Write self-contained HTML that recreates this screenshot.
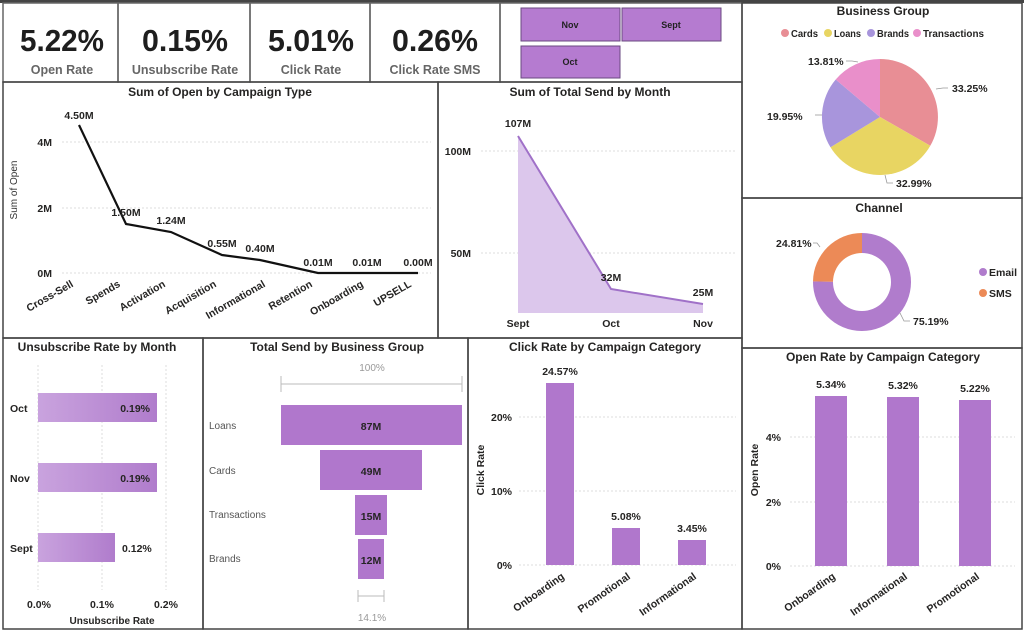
<!DOCTYPE html>
<html><head><meta charset="utf-8"><style>
html,body{margin:0;padding:0;background:#fff;}
svg{display:block;font-family:"Liberation Sans",sans-serif;}
.t{font-size:12px;font-weight:bold;fill:#252423;text-anchor:middle;}
.l{font-size:10.5px;font-weight:bold;fill:#252423;}
.g{stroke:#ddd;stroke-width:1;stroke-dasharray:2,2;}
</style></head><body>
<svg width="1024" height="630" viewBox="0 0 1024 630">
<rect width="1024" height="630" fill="#fff"/>
<g fill="none" stroke="#666" stroke-width="1.5">
<line x1="0" y1="1.5" x2="1024" y2="1.5" stroke="#444" stroke-width="3"/>
<rect x="3" y="3" width="115" height="79"/>
<rect x="118" y="3" width="132" height="79"/>
<rect x="250" y="3" width="120" height="79"/>
<rect x="370" y="3" width="130" height="79"/>
<rect x="500" y="3" width="242" height="79"/>
<rect x="3" y="82" width="435" height="256" stroke="#444"/>
<rect x="438" y="82" width="304" height="256" stroke="#444"/>
<rect x="742" y="3" width="280" height="195" stroke="#444"/>
<rect x="742" y="198" width="280" height="150" stroke="#444"/>
<rect x="742" y="348" width="280" height="281" stroke="#444"/>
<rect x="3" y="338" width="200" height="291" stroke="#444"/>
<rect x="203" y="338" width="265" height="291" stroke="#444"/>
<rect x="468" y="338" width="274" height="291" stroke="#444"/>
</g>
<g font-weight="bold" fill="#1e1e1e" text-anchor="middle">
<text x="62" y="51" font-size="31" textLength="84" lengthAdjust="spacingAndGlyphs">5.22%</text>
<text x="185" y="51" font-size="31" textLength="86" lengthAdjust="spacingAndGlyphs">0.15%</text>
<text x="311" y="51" font-size="31" textLength="86" lengthAdjust="spacingAndGlyphs">5.01%</text>
<text x="435" y="51" font-size="31" textLength="86" lengthAdjust="spacingAndGlyphs">0.26%</text>
</g>
<g font-size="12.5" font-weight="bold" fill="#666" text-anchor="middle">
<text x="62" y="74">Open Rate</text>
<text x="185" y="74">Unsubscribe Rate</text>
<text x="311" y="74">Click Rate</text>
<text x="435" y="74">Click Rate SMS</text>
</g>
<g fill="#b57bd0" stroke="#6a4a80" stroke-width="1">
<rect x="521" y="8" width="99" height="33"/>
<rect x="622" y="8" width="99" height="33"/>
<rect x="521" y="46" width="99" height="32"/>
</g>
<g font-size="9" font-weight="bold" fill="#222" text-anchor="middle">
<text x="570" y="28">Nov</text><text x="671" y="28">Sept</text><text x="570" y="65">Oct</text>
</g>
<text class="t" x="220" y="96">Sum of Open by Campaign Type</text>
<g class="g"><line x1="62" y1="142" x2="431" y2="142"/><line x1="62" y1="208" x2="431" y2="208"/><line x1="62" y1="273" x2="431" y2="273"/></g>
<g class="l" text-anchor="end"><text x="52" y="146">4M</text><text x="52" y="212">2M</text><text x="52" y="277">0M</text></g>
<text transform="translate(17,190) rotate(-90)" font-size="10" fill="#333" text-anchor="middle">Sum of Open</text>
<polyline points="79,125 126,224 171,232 222,255 260,260 318,273 367,273 418,273" fill="none" stroke="#111" stroke-width="2.2"/>
<g class="l" text-anchor="middle">
<text x="79" y="119">4.50M</text><text x="126" y="216">1.50M</text><text x="171" y="224">1.24M</text><text x="222" y="247">0.55M</text><text x="260" y="252">0.40M</text><text x="318" y="266">0.01M</text><text x="367" y="266">0.01M</text><text x="418" y="266">0.00M</text>
</g>
<g class="l" font-size="10" text-anchor="end">
<text transform="translate(74,286) rotate(-30)">Cross-Sell</text>
<text transform="translate(121,286) rotate(-30)">Spends</text>
<text transform="translate(166,286) rotate(-30)">Activation</text>
<text transform="translate(217,286) rotate(-30)">Acquisition</text>
<text transform="translate(266,286) rotate(-30)">Informational</text>
<text transform="translate(313,286) rotate(-30)">Retention</text>
<text transform="translate(364,286) rotate(-30)">Onboarding</text>
<text transform="translate(412,286) rotate(-30)">UPSELL</text>
</g>
<text class="t" x="590" y="96">Sum of Total Send by Month</text>
<g class="g"><line x1="481" y1="151" x2="735" y2="151"/><line x1="481" y1="253" x2="735" y2="253"/></g>
<g class="l" text-anchor="end"><text x="471" y="155">100M</text><text x="471" y="257">50M</text></g>
<polygon points="518,136 611,289 703,304 703,313 518,313" fill="#dcc7ec"/>
<polyline points="518,136 611,289 703,304" fill="none" stroke="#a071c8" stroke-width="2"/>
<g class="l" text-anchor="middle"><text x="518" y="127">107M</text><text x="611" y="281">32M</text><text x="703" y="296">25M</text>
<text x="518" y="327">Sept</text><text x="611" y="327">Oct</text><text x="703" y="327">Nov</text></g>
<text class="t" x="883" y="15">Business Group</text>
<g font-size="10" font-weight="bold" fill="#252423">
<circle cx="785" cy="33" r="4" fill="#e88e95"/><text x="791" y="37" textLength="27" lengthAdjust="spacingAndGlyphs">Cards</text>
<circle cx="828" cy="33" r="4" fill="#e8d562"/><text x="834" y="37" textLength="27" lengthAdjust="spacingAndGlyphs">Loans</text>
<circle cx="871" cy="33" r="4" fill="#a895dc"/><text x="877" y="37" textLength="32" lengthAdjust="spacingAndGlyphs">Brands</text>
<circle cx="917" cy="33" r="4" fill="#e98fca"/><text x="923" y="37" textLength="61" lengthAdjust="spacingAndGlyphs">Transactions</text>
</g>
<path d="M880,117 L880,59 A58,58 0 0 1 930.3,145.8 Z" fill="#e88e95"/>
<path d="M880,117 L930.3,145.8 A58,58 0 0 1 830.5,147.3 Z" fill="#e8d562"/>
<path d="M880,117 L830.5,147.3 A58,58 0 0 1 835.7,79.5 Z" fill="#a895dc"/>
<path d="M880,117 L835.7,79.5 A58,58 0 0 1 880,59 Z" fill="#e98fca"/>
<g stroke="#999" fill="none" stroke-width="0.8"><polyline points="936,89 943,88 948,88"/><polyline points="858,62 852,61 846,61"/><polyline points="822,115 815,115"/><polyline points="885,175 887,183 893,183"/></g>
<g class="l"><text x="952" y="92">33.25%</text><text x="808" y="65">13.81%</text><text x="767" y="120">19.95%</text><text x="896" y="187">32.99%</text></g>
<text class="t" x="879" y="212">Channel</text>
<path d="M862,233 A49,49 0 1 1 813,281.4 L833,281.7 A29,29 0 1 0 862,253 Z" fill="#b07ccc"/>
<path d="M813,281.4 A49,49 0 0 1 862,233 L862,253 A29,29 0 0 0 833,281.7 Z" fill="#ec8a57"/>
<g stroke="#999" fill="none" stroke-width="0.8"><polyline points="813,243 817,243 820,247"/><polyline points="900,313 904,321 910,321"/></g>
<g class="l"><text x="776" y="247">24.81%</text><text x="913" y="325">75.19%</text></g>
<circle cx="983" cy="272" r="4" fill="#b07ccc"/><text class="l" x="989" y="276">Email</text>
<circle cx="983" cy="293" r="4" fill="#ec8a57"/><text class="l" x="989" y="297">SMS</text>
<text class="t" x="97" y="351">Unsubscribe Rate by Month</text>
<g class="g"><line x1="38" y1="365" x2="38" y2="590"/><line x1="102" y1="365" x2="102" y2="590"/><line x1="166" y1="365" x2="166" y2="590"/></g>
<defs><linearGradient id="ug" x1="0" x2="1"><stop offset="0" stop-color="#c9a3de"/><stop offset="1" stop-color="#b07ccc"/></linearGradient></defs>
<rect x="38" y="393" width="119" height="29" fill="url(#ug)"/>
<rect x="38" y="463" width="119" height="29" fill="url(#ug)"/>
<rect x="38" y="533" width="77" height="29" fill="url(#ug)"/>
<g class="l"><text x="10" y="412">Oct</text><text x="10" y="482">Nov</text><text x="10" y="552">Sept</text>
<text x="150" y="412" text-anchor="end">0.19%</text><text x="150" y="482" text-anchor="end">0.19%</text><text x="122" y="552">0.12%</text>
<text x="39" y="608" text-anchor="middle">0.0%</text><text x="102" y="608" text-anchor="middle">0.1%</text><text x="166" y="608" text-anchor="middle">0.2%</text>
<text x="112" y="624" text-anchor="middle" font-size="10">Unsubscribe Rate</text></g>
<text class="t" x="337" y="351">Total Send by Business Group</text>
<text x="372" y="371" font-size="10" fill="#999" text-anchor="middle">100%</text>
<g stroke="#bbb" stroke-width="1"><line x1="281" y1="384" x2="462" y2="384"/><line x1="281" y1="376" x2="281" y2="392"/><line x1="462" y1="376" x2="462" y2="392"/>
<line x1="358" y1="596" x2="384" y2="596"/><line x1="358" y1="590" x2="358" y2="602"/><line x1="384" y1="590" x2="384" y2="602"/></g>
<text x="372" y="621" font-size="10" fill="#999" text-anchor="middle">14.1%</text>
<g fill="#b077cc"><rect x="281" y="405" width="181" height="40"/><rect x="320" y="450" width="102" height="40"/><rect x="355" y="495" width="32" height="40"/><rect x="358" y="539" width="26" height="40"/></g>
<g font-size="10" fill="#555"><text x="209" y="429">Loans</text><text x="209" y="474">Cards</text><text x="209" y="518">Transactions</text><text x="209" y="562">Brands</text></g>
<g class="l" text-anchor="middle" font-size="11"><text x="371" y="430">87M</text><text x="371" y="475">49M</text><text x="371" y="520">15M</text><text x="371" y="564">12M</text></g>
<text class="t" x="605" y="351">Click Rate by Campaign Category</text>
<g class="g"><line x1="519" y1="417" x2="736" y2="417"/><line x1="519" y1="491" x2="736" y2="491"/><line x1="519" y1="565" x2="736" y2="565"/></g>
<g class="l" text-anchor="end"><text x="512" y="421">20%</text><text x="512" y="495">10%</text><text x="512" y="569">0%</text></g>
<text transform="translate(484,470) rotate(-90)" class="l" font-size="10" text-anchor="middle">Click Rate</text>
<g fill="#b077cc"><rect x="546" y="383" width="28" height="182"/><rect x="612" y="528" width="28" height="37"/><rect x="678" y="540" width="28" height="25"/></g>
<g class="l" text-anchor="middle"><text x="560" y="375">24.57%</text><text x="626" y="520">5.08%</text><text x="692" y="532">3.45%</text></g>
<g class="l" font-size="10" text-anchor="end"><text transform="translate(565,578) rotate(-35)">Onboarding</text><text transform="translate(631,578) rotate(-35)">Promotional</text><text transform="translate(697,578) rotate(-35)">Informational</text></g>
<text class="t" x="883" y="361">Open Rate by Campaign Category</text>
<g class="g"><line x1="790" y1="437" x2="1015" y2="437"/><line x1="790" y1="502" x2="1015" y2="502"/><line x1="790" y1="566" x2="1015" y2="566"/></g>
<g class="l" text-anchor="end"><text x="781" y="441">4%</text><text x="781" y="506">2%</text><text x="781" y="570">0%</text></g>
<text transform="translate(758,470) rotate(-90)" class="l" font-size="10" text-anchor="middle">Open Rate</text>
<g fill="#b077cc"><rect x="815" y="396" width="32" height="170"/><rect x="887" y="397" width="32" height="169"/><rect x="959" y="400" width="32" height="166"/></g>
<g class="l" text-anchor="middle"><text x="831" y="388">5.34%</text><text x="903" y="389">5.32%</text><text x="975" y="392">5.22%</text></g>
<g class="l" font-size="10" text-anchor="end"><text transform="translate(836,578) rotate(-35)">Onboarding</text><text transform="translate(908,578) rotate(-35)">Informational</text><text transform="translate(980,578) rotate(-35)">Promotional</text></g>
</svg>
</body></html>
